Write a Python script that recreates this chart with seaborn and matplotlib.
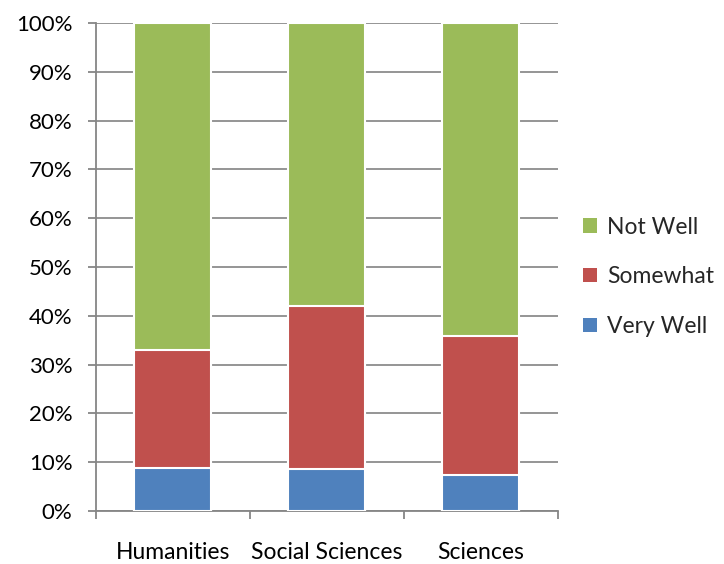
import matplotlib
matplotlib.use("Agg")
import matplotlib.pyplot as plt
import seaborn as sns
import pandas as pd
import numpy as np
from matplotlib.patches import Patch
from matplotlib.ticker import FuncFormatter, MultipleLocator

# Survey responses (percent of respondents)
fields = ["Humanities", "Social Sciences", "Sciences"]
very_well = [8.9, 8.7, 7.4]
somewhat = [24.0, 33.4, 28.5]
not_well = [67.1, 57.9, 64.1]

series_names = ["Very Well", "Somewhat", "Not Well"]
series_colors = ["#4F81BD", "#C0504D", "#9BBB59"]

sns.set_theme(style="white")
plt.rcParams["font.family"] = ["Lato", "DejaVu Sans"]

fig = plt.figure(figsize=(7.24, 5.64), dpi=100)
ax = fig.add_axes([0.1326, 0.094, 0.638, 0.8652])

df = pd.DataFrame({"field": fields, "Very Well": very_well,
                   "Somewhat": somewhat, "Not Well": not_well})
cum = df[series_names].cumsum(axis=1)

# draw tallest cumulative layer first so lower segments sit on top
for name, color in reversed(list(zip(series_names, series_colors))):
    sns.barplot(x=df["field"], y=cum[name], color=color, width=0.5,
                edgecolor="white", linewidth=1.5, saturation=1, ax=ax, zorder=3)

ax.set_ylim(0, 100)
ax.set_xlim(-0.5, 2.5)
ax.yaxis.set_major_locator(MultipleLocator(10))
ax.yaxis.set_major_formatter(FuncFormatter(lambda v, _: f"{v:.0f}%"))
ax.grid(axis="y", color="#8C8C8C", linewidth=1.3, zorder=0)
ax.set_axisbelow(True)

for side in ["top", "right"]:
    ax.spines[side].set_visible(False)
for side in ["left", "bottom"]:
    ax.spines[side].set_color("#868686")
    ax.spines[side].set_linewidth(1.3)

ax.set_xlabel("")
ax.set_ylabel("")
ax.set_xticks(np.arange(len(fields)))
ax.set_xticklabels(fields)
ax.set_xticks([-0.5, 0.5, 1.5, 2.5], minor=True)
ax.tick_params(axis="x", which="major", length=0, pad=22, labelsize=16.5, colors="black")
ax.tick_params(axis="x", which="minor", length=6, width=1.3, color="#868686", bottom=True)
ax.tick_params(axis="y", length=6, width=1.3, color="#868686", left=True,
               labelsize=16, labelcolor="black", pad=11)

handles = [Patch(facecolor=c, edgecolor="none") for c in reversed(series_colors)]
labels = list(reversed(series_names))
ax.legend(handles, labels, loc="center left", bbox_to_anchor=(1.01, 0.48),
          frameon=False, fontsize=16.5, handlelength=0.6, handleheight=0.6,
          handletextpad=0.45, labelspacing=1.25)

fig.savefig("out.png", dpi=100)
